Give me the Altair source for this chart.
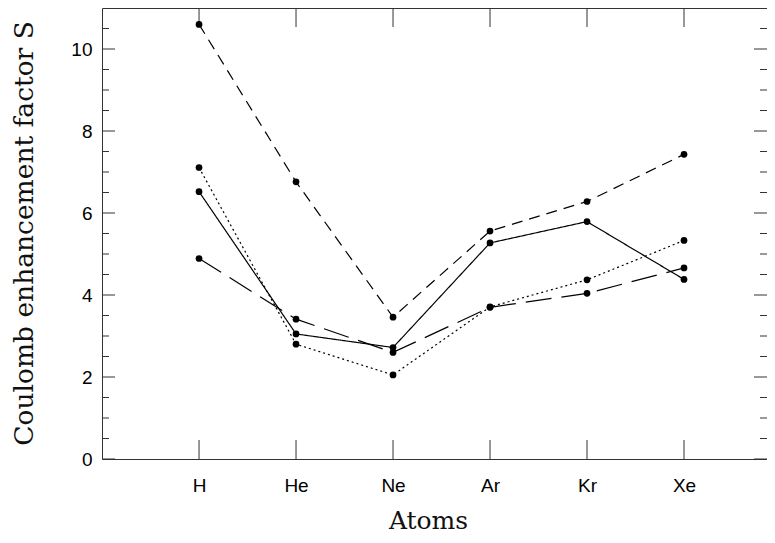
import altair as alt
import pandas as pd

atoms = ["H", "He", "Ne", "Ar", "Kr", "Xe"]
series_names = ["solid", "dotted", "short dash", "long dash"]
s_solid = [6.52, 3.05, 2.72, 5.27, 5.79, 4.38]
s_dotted = [7.11, 2.80, 2.05, 3.71, 4.37, 5.33]
s_short = [10.60, 6.76, 3.46, 5.56, 6.28, 7.43]
s_long = [4.89, 3.41, 2.60, 3.70, 4.04, 4.66]

y_labels = [0, 2, 4, 6, 8, 10]
y_minor = [0.5, 1, 1.5, 2.5, 3, 3.5, 4.5, 5, 5.5, 6.5, 7, 7.5, 8.5, 9, 9.5, 10.5]

W, H = 665, 451

rows = []
for name, vals in zip(series_names, [s_solid, s_dotted, s_short, s_long]):
    for a, v in zip(atoms, vals):
        rows.append({"atom": a, "S": v, "series": name})
df = pd.DataFrame(rows)

xscale = alt.Scale(type="point", domain=atoms, padding=0.928, align=0.539)
yscale = alt.Scale(domain=[0, 11], nice=False, zero=True)

title_font = "DejaVu Serif"
x_axis = alt.Axis(title="Atoms", labelAngle=0, ticks=False, tickSize=0, domain=False,
                  grid=False, labelPadding=17, labelFont="Liberation Sans",
                  labelFontSize=19, labelColor="black",
                  titleFont=title_font, titleFontSize=25, titleFontWeight="normal",
                  titleColor="#111", titleX=326, titleY=61, titleBaseline="middle",
                  titleAlign="center")
y_axis = alt.Axis(title="Coulomb enhancement factor S", values=y_labels, ticks=False,
                  tickSize=0, domain=False, grid=False, labelPadding=10,
                  labelFont="Liberation Sans", labelFontSize=19, labelColor="black",
                  titleFont=title_font, titleFontSize=26.5, titleFontWeight="normal",
                  titleColor="#111", titleX=-78, titleY=225, titleAngle=-90,
                  titleBaseline="middle", titleAlign="center")

base = alt.Chart(df)
lines = base.mark_line(color="black", strokeWidth=1.2).encode(
    x=alt.X("atom:N", scale=xscale, axis=x_axis),
    y=alt.Y("S:Q", scale=yscale, axis=y_axis),
    detail="series:N",
    strokeDash=alt.StrokeDash("series:N",
                              scale=alt.Scale(domain=series_names,
                                              range=[[1, 0], [2, 3], [11, 7], [26, 10]]),
                              legend=None),
)
points = base.mark_circle(size=45, color="black", opacity=1).encode(
    x=alt.X("atom:N", scale=xscale),
    y=alt.Y("S:Q", scale=yscale),
)

tick_color = "#333"
ymin_df = pd.DataFrame({"S": y_minor})
ymaj_df = pd.DataFrame({"S": y_labels})
x_df = pd.DataFrame({"atom": atoms})

yl_minor = alt.Chart(ymin_df).mark_rule(color=tick_color, strokeWidth=1).encode(
    y=alt.Y("S:Q", scale=yscale), x=alt.value(0), x2=alt.value(7))
yl_major = alt.Chart(ymaj_df).mark_rule(color=tick_color, strokeWidth=1).encode(
    y=alt.Y("S:Q", scale=yscale), x=alt.value(0), x2=alt.value(13))
yr_minor = alt.Chart(ymin_df).mark_rule(color=tick_color, strokeWidth=1).encode(
    y=alt.Y("S:Q", scale=yscale), x=alt.value(W), x2=alt.value(W - 7))
yr_major = alt.Chart(ymaj_df).mark_rule(color=tick_color, strokeWidth=1).encode(
    y=alt.Y("S:Q", scale=yscale), x=alt.value(W), x2=alt.value(W - 13))
xb = alt.Chart(x_df).mark_rule(color=tick_color, strokeWidth=1).encode(
    x=alt.X("atom:N", scale=xscale), y=alt.value(H), y2=alt.value(H - 19))
xt = alt.Chart(x_df).mark_rule(color=tick_color, strokeWidth=1).encode(
    x=alt.X("atom:N", scale=xscale), y=alt.value(0), y2=alt.value(19))

chart = alt.layer(lines, yl_minor, yl_major, yr_minor, yr_major, xb, xt, points).properties(
    width=W, height=H,
    autosize=alt.AutoSizeParams(type="none"),
    padding={"left": 94, "top": 0, "right": 0, "bottom": 76},
    background="white",
).configure_view(stroke="#333", strokeWidth=1)

chart.save("out.html", embed_options={"renderer": "svg", "actions": False})
